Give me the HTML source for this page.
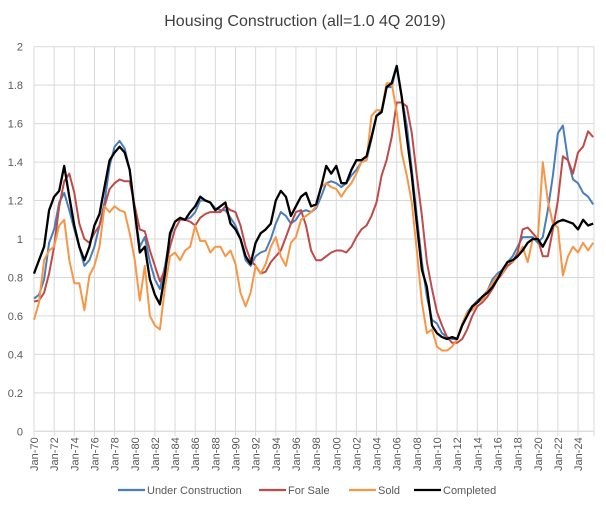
<!DOCTYPE html>
<html><head><meta charset="utf-8"><style>
body{margin:0;background:#fff;width:606px;height:509px;overflow:hidden;font-family:"Liberation Sans",sans-serif}
svg text{font-family:"Liberation Sans",sans-serif;fill:#595959}
</style></head><body>
<svg id="chart" width="606" height="509" viewBox="0 0 606 509" xmlns="http://www.w3.org/2000/svg">
<text x="305" y="26" text-anchor="middle" font-size="16" style="fill:#404040">Housing Construction (all=1.0 4Q 2019)</text>
<g id="grid"></g>
<g id="yaxis"></g>
<g id="xaxis"></g>
<g id="series"></g>
<g>
<g><line x1="118" y1="490" x2="145" y2="490" stroke="#4a7ebb" stroke-width="2.2"/><text x="147" y="494" font-size="11">Under Construction</text></g>
<g><line x1="259" y1="490" x2="286" y2="490" stroke="#be4b48" stroke-width="2.2"/><text x="288" y="494" font-size="11">For Sale</text></g>
<g><line x1="349" y1="490" x2="376" y2="490" stroke="#f79646" stroke-width="2.2"/><text x="378" y="494" font-size="11">Sold</text></g>
<g><line x1="414" y1="490" x2="441" y2="490" stroke="#000" stroke-width="2.2"/><text x="443" y="494" font-size="11">Completed</text></g>
</g>
</svg>
<script>
const startYear = 1970;
const yTicks = [0,0.2,0.4,0.6,0.8,1,1.2,1.4,1.6,1.8,2];
const yTickLabels = ["0","0.2","0.4","0.6","0.8","1","1.2","1.4","1.6","1.8","2"];
const xTickYears = [1970,1972,1974,1976,1978,1980,1982,1984,1986,1988,1990,1992,1994,1996,1998,2000,2002,2004,2006,2008,2010,2012,2014,2016,2018,2020,2022,2024];
const xTickLabels = ["Jan-70","Jan-72","Jan-74","Jan-76","Jan-78","Jan-80","Jan-82","Jan-84","Jan-86","Jan-88","Jan-90","Jan-92","Jan-94","Jan-96","Jan-98","Jan-00","Jan-02","Jan-04","Jan-06","Jan-08","Jan-10","Jan-12","Jan-14","Jan-16","Jan-18","Jan-20","Jan-22","Jan-24"];
const underConstruction = [0.69,0.71,0.79,0.98,1.05,1.19,1.24,1.15,1.05,0.96,0.86,0.89,0.96,1.07,1.19,1.38,1.48,1.51,1.47,1.36,1.14,0.96,1.01,0.88,0.79,0.74,0.86,1.01,1.09,
1.11,1.10,1.11,1.14,1.20,1.20,1.19,1.16,1.15,1.15,1.11,1.07,1.0,0.89,0.86,0.91,0.93,0.94,1.0,1.08,1.14,1.12,1.08,1.10,1.14,1.15,1.14,1.16,
1.22,1.29,1.30,1.29,1.27,1.29,1.33,1.36,1.40,1.41,1.52,1.64,1.67,1.79,1.79,1.90,1.74,1.59,1.36,1.12,0.88,0.70,0.58,0.56,0.51,0.49,0.48,0.48,0.55,0.62,0.65,0.68,0.70,0.73,0.79,0.82,0.84,0.88,0.91,0.96,1.01,1.01,1.01,0.98,1.01,1.15,1.33,1.55,1.59,1.41,1.31,1.29,1.24,1.22,1.18];
const forSale = [0.675,0.68,0.72,0.82,0.96,1.17,1.30,1.34,1.24,1.08,1.0,0.98,1.03,1.07,1.17,1.26,1.29,1.31,1.30,1.30,1.17,1.05,1.04,0.94,0.86,0.78,0.84,0.96,1.05,
1.10,1.10,1.09,1.07,1.11,1.13,1.14,1.14,1.14,1.17,1.15,1.14,1.07,0.96,0.89,0.86,0.82,0.83,0.88,0.91,0.94,1.01,1.08,1.14,1.15,1.07,0.94,0.89,
0.89,0.91,0.93,0.94,0.94,0.93,0.96,1.01,1.05,1.07,1.12,1.19,1.33,1.41,1.53,1.71,1.71,1.69,1.55,1.33,1.12,0.88,0.74,0.62,0.55,0.49,0.46,0.46,0.48,0.53,0.60,0.65,0.67,0.70,0.74,0.79,0.82,0.86,0.88,0.93,1.05,1.06,1.03,1.0,0.91,0.91,1.05,1.20,1.43,1.41,1.34,1.45,1.48,1.56,1.53];
const sold = [0.58,0.67,0.89,0.94,0.96,1.07,1.10,0.89,0.77,0.77,0.63,0.81,0.86,0.96,1.17,1.14,1.17,1.15,1.14,1.03,0.89,0.68,0.86,0.60,0.55,0.53,0.75,0.91,0.93,
0.89,0.94,0.96,1.07,0.99,0.99,0.93,0.96,0.96,0.91,0.94,0.87,0.72,0.65,0.72,0.86,0.82,0.87,0.96,1.01,0.91,0.86,0.98,1.01,1.10,1.12,1.14,1.17,
1.27,1.29,1.27,1.26,1.22,1.26,1.29,1.34,1.40,1.41,1.64,1.67,1.67,1.81,1.81,1.66,1.45,1.33,1.19,0.94,0.67,0.51,0.53,0.44,0.42,0.42,0.44,0.48,0.56,0.62,0.63,0.67,0.68,0.73,0.77,0.81,0.82,0.88,0.88,0.91,0.96,0.88,1.0,1.0,1.40,1.20,1.08,1.06,0.81,0.91,0.96,0.93,0.98,0.94,0.98];
const completed = [0.82,0.89,0.96,1.15,1.22,1.25,1.38,1.22,1.07,0.96,0.89,0.96,1.07,1.13,1.27,1.41,1.45,1.48,1.45,1.36,1.14,0.93,0.96,0.79,0.71,0.66,0.82,1.03,1.09,
1.11,1.10,1.14,1.17,1.22,1.20,1.19,1.15,1.17,1.19,1.08,1.05,1.0,0.91,0.87,0.98,1.03,1.05,1.08,1.20,1.25,1.22,1.12,1.17,1.22,1.24,1.17,1.18,
1.27,1.38,1.34,1.38,1.29,1.29,1.36,1.41,1.41,1.43,1.53,1.64,1.66,1.79,1.81,1.90,1.74,1.53,1.33,1.08,0.84,0.75,0.55,0.51,0.49,0.48,0.49,0.48,0.55,0.60,0.65,0.67,0.70,0.72,0.75,0.79,0.84,0.88,0.89,0.91,0.94,0.98,1.0,1.0,0.96,1.01,1.07,1.09,1.10,1.09,1.08,1.05,1.10,1.07,1.08];

const NS="http://www.w3.org/2000/svg";
const X0=34, PX_PER_YEAR=10.075, Y0=431.3, PX_PER_UNIT=192.3, RIGHT=594;
function xScale(year){return X0+(year-startYear)*PX_PER_YEAR;}
function yScale(v){return Y0-v*PX_PER_UNIT;}
function mk(tag,attrs,parent){const e=document.createElementNS(NS,tag);for(const k in attrs)e.setAttribute(k,attrs[k]);parent.appendChild(e);return e;}
const grid=document.getElementById('grid'),ya=document.getElementById('yaxis'),xa=document.getElementById('xaxis'),ser=document.getElementById('series');
yTicks.forEach((t,i)=>{
  const y=yScale(t);
  const l=mk('line',{x1:X0,x2:RIGHT,y1:y,y2:y,stroke:'#d9d9d9','stroke-width':1},grid);
  
  
  const tx=mk('text',{x:23,y:y+4,'text-anchor':'end','font-size':11},ya);
  tx.textContent=yTickLabels[i];
  
  
});
xTickYears.forEach((yr,i)=>{
  const x=xScale(yr);
  const l=mk('line',{x1:x,x2:x,y1:yScale(2),y2:Y0+5,stroke:'#d9d9d9','stroke-width':1},grid);
  
  
  const tx=mk('text',{x:0,y:0,'text-anchor':'end','font-size':11,transform:`translate(${x+4},${Y0+6}) rotate(-90)`},xa);
  tx.textContent=xTickLabels[i];
  
  
});
const rl=mk('line',{x1:RIGHT,x2:RIGHT,y1:yScale(2),y2:Y0+5,stroke:'#d9d9d9'},grid);


const ax=mk('line',{x1:X0,x2:RIGHT,y1:Y0,y2:Y0,stroke:'#d9d9d9'},xa);


const seriesList=[[underConstruction,'#4a7ebb','under-construction-line'],[forSale,'#be4b48','for-sale-line'],[sold,'#f79646','sold-line'],[completed,'#000000','completed-line']];
seriesList.forEach(([data,color,name])=>{
  const pts=data.map((v,k)=>xScale(startYear+k/2).toFixed(1)+','+yScale(v).toFixed(1)).join(' ');
  const p=mk('polyline',{points:pts,fill:'none',stroke:color,'stroke-width':name==='completed-line'?2.3:2,'stroke-linejoin':'round'},ser);
  
  
});
</script>
</body></html>
